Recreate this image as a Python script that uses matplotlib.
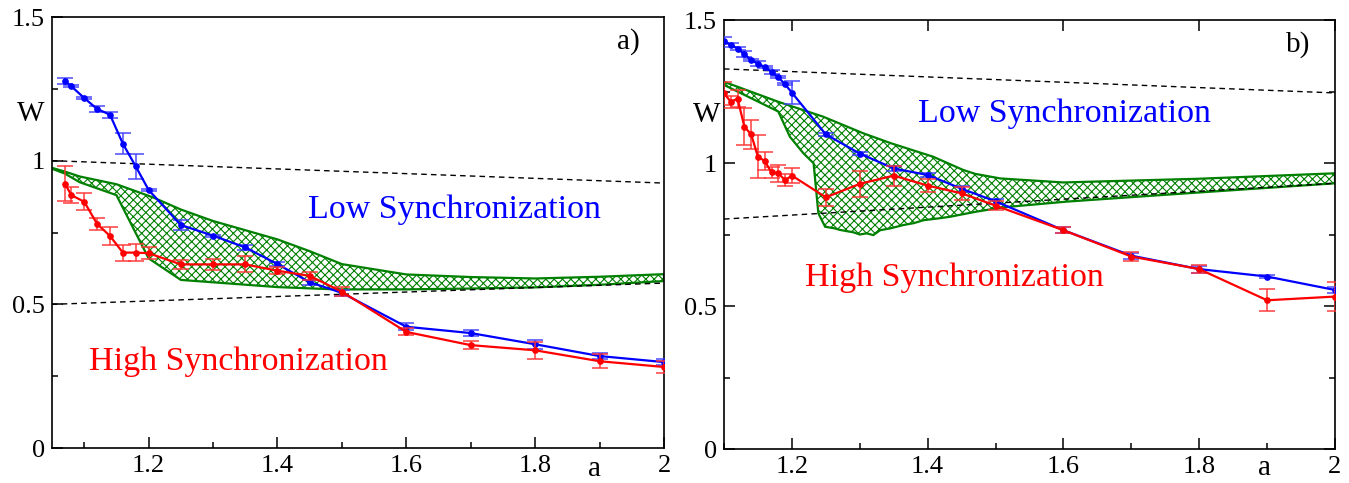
import numpy as np
import matplotlib
matplotlib.use("Agg")
import matplotlib.pyplot as plt
from matplotlib.ticker import FixedLocator, FixedFormatter

plt.rcParams['font.family'] = ['Liberation Serif', 'DejaVu Serif']
plt.rcParams['hatch.linewidth'] = 0.8

# ---------------- data: panel a) ----------------
a_L = [1.07, 1.08, 1.10, 1.12, 1.14, 1.16, 1.18, 1.20, 1.25, 1.30, 1.35, 1.40,
       1.45, 1.50, 1.60, 1.70, 1.80, 1.90, 2.00]
W_blue_L = [1.278, 1.259, 1.218, 1.18, 1.16, 1.059, 0.98, 0.898, 0.776, 0.739,
            0.698, 0.64, 0.577, 0.540, 0.422, 0.40, 0.361, 0.32, 0.299]
err_blue_L = [0.01, 0.004, 0.004, 0.01, 0.01, 0.037, 0.043, 0.004, 0.016, 0.004,
              0.008, 0.008, 0.008, 0.01, 0.012, 0.01, 0.015, 0.01, 0.01]
W_red_L = [0.92, 0.88, 0.857, 0.78, 0.738, 0.68, 0.68, 0.678, 0.639, 0.639,
           0.639, 0.617, 0.599, 0.544, 0.404, 0.358, 0.340, 0.302, 0.282]
err_red_L = [0.06, 0.028, 0.03, 0.02, 0.03, 0.028, 0.03, 0.02, 0.016, 0.02,
             0.028, 0.013, 0.013, 0.015, 0.012, 0.015, 0.03, 0.025, 0.02]

band_a_up_L = [1.05, 1.07, 1.093, 1.15, 1.207, 1.25, 1.30, 1.40, 1.45, 1.50,
               1.60, 1.70, 1.80, 1.90, 2.00]
band_up_L = [0.975, 0.962, 0.945, 0.918, 0.872, 0.83, 0.79, 0.726, 0.685, 0.64,
             0.604, 0.595, 0.59, 0.596, 0.605]
band_a_lo_L = [1.05, 1.07, 1.093, 1.15, 1.20, 1.25, 1.40, 1.49, 1.60, 1.70,
               1.80, 1.90, 2.00]
band_lo_L = [0.972, 0.955, 0.925, 0.88, 0.66, 0.585, 0.56, 0.552, 0.552, 0.555,
             0.559, 0.568, 0.581]

dash_a_L = [1.05, 2.00]
dash_up_L = [1.0, 0.922]
dash_lo_L = [0.50, 0.574]

# ---------------- data: panel b) ----------------
a_R = [1.10, 1.11, 1.12, 1.13, 1.14, 1.15, 1.16, 1.17, 1.18, 1.19, 1.20, 1.25,
       1.30, 1.35, 1.40, 1.45, 1.50, 1.60, 1.70, 1.80, 1.90, 2.00]
W_blue_R = [1.427, 1.413, 1.40, 1.38, 1.36, 1.347, 1.336, 1.318, 1.30, 1.275,
            1.246, 1.10, 1.033, 0.981, 0.958, 0.91, 0.866, 0.765, 0.676, 0.629,
            0.603, 0.556]
err_blue_R = [0.012, 0.008, 0.004, 0.01, 0.004, 0.008, 0.004, 0.006, 0.004,
              0.004, 0.04, 0.004, 0.004, 0.01, 0.008, 0.01, 0.008, 0.01, 0.01,
              0.012, 0.006, 0.01]
W_red_R = [1.244, 1.214, 1.225, 1.127, 1.10, 1.022, 1.007, 0.967, 0.964, 0.94,
           0.956, 0.88, 0.927, 0.956, 0.921, 0.894, 0.851, 0.765, 0.673, 0.629,
           0.52, 0.533]
err_red_R = [0.04, 0.02, 0.03, 0.064, 0.05, 0.075, 0.03, 0.02, 0.03, 0.02,
             0.025, 0.03, 0.045, 0.035, 0.023, 0.023, 0.015, 0.01, 0.015, 0.015,
             0.038, 0.05]

band_a_up_R = [1.10, 1.18, 1.246, 1.305, 1.346, 1.408, 1.452, 1.47, 1.507,
               1.60, 1.80, 2.00]
band_up_R = [1.284, 1.214, 1.162, 1.104, 1.069, 1.022, 0.976, 0.962, 0.946,
             0.932, 0.945, 0.964]
band_a_lo_R = [1.10, 1.18, 1.197, 1.217, 1.232, 1.239, 1.249, 1.262, 1.271,
               1.28, 1.29, 1.30, 1.31, 1.32, 1.33, 1.346, 1.364, 1.38, 1.394,
               1.415, 1.433, 1.45, 1.472, 1.511, 1.605, 1.80, 2.00]
band_lo_R = [1.273, 1.18, 1.092, 1.034, 0.999, 0.824, 0.777, 0.772, 0.766,
             0.762, 0.758, 0.750, 0.754, 0.748, 0.765, 0.772, 0.783, 0.790,
             0.80, 0.806, 0.812, 0.820, 0.83, 0.845, 0.865, 0.897, 0.929]

dash_a_R = [1.10, 2.00]
dash_up_R = [1.329, 1.245]
dash_lo_R = [0.804, 0.929]

xtick_major = [1.2, 1.4, 1.6, 1.8, 2.0]
xtick_labels = ['1.2', '1.4', '1.6', '1.8', '2']
xtick_minor = [1.1, 1.3, 1.5, 1.7, 1.9]
ytick_major = [0, 0.5, 1.0, 1.5]
ytick_labels = ['0', '0.5', '1', '1.5']
ytick_minor = [0.25, 0.75, 1.25]

BLUE = '#0000ff'
RED = '#ff0000'
GREEN = '#008000'

fig = plt.figure(figsize=(13.49, 4.83), dpi=100)
axL = fig.add_axes([0.03855, 0.07246, 0.45367, 0.89234])
axR = fig.add_axes([0.53669, 0.07039, 0.45293, 0.88820])


def draw(ax, a, wb, eb, wr, er, bau, bu, bal, bl, da, du, dl, xlim, mirror):
    poly_x = np.concatenate([bau, bal[::-1]])
    poly_y = np.concatenate([bu, bl[::-1]])
    ax.fill(poly_x, poly_y, facecolor='white', edgecolor=GREEN, hatch='xxxx',
            linewidth=1.6, zorder=2)
    ax.plot(da, du, ls=(0, (4, 3)), color='black', lw=1.0, zorder=3)
    ax.plot(da, dl, ls=(0, (4, 3)), color='black', lw=1.0, zorder=3)
    ax.errorbar(a, wb, yerr=eb, color=BLUE, ecolor=(0.25, 0.25, 1.0, 0.8),
                lw=1.6, elinewidth=1.3, capsize=6, capthick=1.3,
                marker='o', ms=3.8, zorder=5)
    ax.errorbar(a, wr, yerr=er, color=RED, ecolor=(1.0, 0.2, 0.2, 0.8),
                lw=1.6, elinewidth=1.3, capsize=6, capthick=1.3,
                marker='o', ms=3.8, zorder=6)
    ax.set_xlim(*xlim)
    ax.set_ylim(0, 1.5)
    ax.xaxis.set_major_locator(FixedLocator(xtick_major))
    ax.xaxis.set_major_formatter(FixedFormatter(xtick_labels))
    ax.xaxis.set_minor_locator(FixedLocator(xtick_minor))
    ax.yaxis.set_major_locator(FixedLocator(ytick_major))
    ax.yaxis.set_major_formatter(FixedFormatter(ytick_labels))
    ax.yaxis.set_minor_locator(FixedLocator(ytick_minor))
    ax.tick_params(which='both', direction='in', top=False, right=mirror,
                   labelsize=19, width=1.1)
    ax.tick_params(which='major', length=8, pad=5, top=mirror)
    ax.tick_params(which='minor', length=4)
    for s in ax.spines.values():
        s.set_linewidth(1.2)


draw(axL, a_L, W_blue_L, err_blue_L, W_red_L, err_red_L,
     band_a_up_L, band_up_L, band_a_lo_L, band_lo_L,
     dash_a_L, dash_up_L, dash_lo_L, (1.05, 2.0), False)
draw(axR, a_R, W_blue_R, err_blue_R, W_red_R, err_red_R,
     band_a_up_R, band_up_R, band_a_lo_R, band_lo_R,
     dash_a_R, dash_up_R, dash_lo_R, (1.1, 2.0), True)

# texts panel a
axL.text(1.674, 0.828, 'Low Synchronization', color=BLUE, fontsize=24.5,
         ha='center', va='center')
axL.text(1.340, 0.300, 'High Synchronization', color=RED, fontsize=24.5,
         ha='center', va='center')
axL.text(-0.034, 0.775, 'W', transform=axL.transAxes, fontsize=21,
         ha='center', va='center')
axL.text(0.887, -0.066, 'a', transform=axL.transAxes, fontsize=21,
         ha='center', va='baseline')
axL.text(0.941, 0.942, 'a)', transform=axL.transAxes, fontsize=21,
         ha='center', va='center')

# texts panel b
axR.text(1.602, 1.171, 'Low Synchronization', color=BLUE, fontsize=24.5,
         ha='center', va='center')
axR.text(1.439, 0.598, 'High Synchronization', color=RED, fontsize=24.5,
         ha='center', va='center')
axR.text(-0.029, 0.778, 'W', transform=axR.transAxes, fontsize=21,
         ha='center', va='center')
axR.text(0.885, -0.06, 'a', transform=axR.transAxes, fontsize=21,
         ha='center', va='baseline')
axR.text(0.939, 0.942, 'b)', transform=axR.transAxes, fontsize=21,
         ha='center', va='center')

fig.savefig('out.png', dpi=100)
